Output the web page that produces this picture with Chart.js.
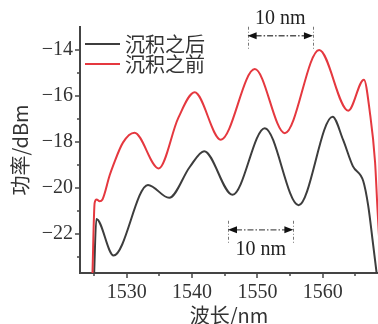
<!DOCTYPE html>
<html>
<head>
<meta charset="utf-8">
<script src="https://cdn.jsdelivr.net/npm/chart.js@4.4.1/dist/chart.umd.min.js"></script>
<style>
  html, body { margin: 0; padding: 0; background: #fff; }
  #wrap { width: 378px; height: 324px; }
</style>
</head>
<body>
<div id="wrap"><canvas id="spectrum"></canvas></div>
<script>
// 沉积之前（红）
const beforeWl  = [1524.75, 1525.1, 1525.4, 1525.85, 1526.3, 1527.4, 1527.9, 1529.43, 1531.2, 1534.9, 1537.9, 1540.4, 1544.4, 1549.6, 1554.2, 1559.45, 1563.9, 1566.3, 1567.2, 1568.0, 1568.35, 1568.7];
const beforePow = [-23.9, -20.65, -20.5, -20.58, -20.5, -19.45, -19.05, -18.03, -17.6, -19.15, -16.95, -15.84, -17.9, -14.83, -17.62, -14.0, -16.64, -15.29, -16.7, -18.87, -20.8, -22.6];

// 沉积之后（黑）
const afterWl  = [1525.0, 1525.36, 1528.0, 1533.26, 1536.5, 1539.65, 1541.85, 1546.2, 1551.13, 1556.3, 1561.5, 1563.1, 1564.6, 1566.19, 1566.95, 1567.72, 1568.24, 1568.5];
const afterPow = [-23.9, -21.35, -22.94, -19.87, -20.43, -19.09, -18.4, -20.3, -17.4, -20.75, -16.9, -17.9, -19.05, -19.7, -20.77, -22.5, -23.7, -24.3];

// 刻度
const xMajor = [1530, 1540, 1550, 1560];
const xMinor = [1525, 1535, 1545, 1555, 1565];
const yMajor = [-22, -20, -18, -16, -14];
const yMinor = [-23, -21, -19, -17, -15];

// 两处 10 nm 标注（起点 + 跨度）
const spanStart = [1548.5, 1545.5];
const spanWidth = [10, 10];
const spanLevel = [-13.38, -21.82];
const spanLabel = ['10 nm', '10 nm'];

const seriesNames = ['沉积之后', '沉积之前'];
const red = '#e5383f';
const dark = '#3d3d3d';
const axisColor = '#444';
const serif = '"Liberation Serif", "Noto Sans CJK SC", serif';
const cjk = '"Noto Sans CJK SC", "Liberation Serif", sans-serif';

const toPts = (xs, ys) => xs.map((v, i) => ({ x: v, y: ys[i] }));

function arrowHead(ctx, x, y, dir) {
  ctx.beginPath();
  ctx.moveTo(x, y);
  ctx.lineTo(x - dir * 9, y - 3.5);
  ctx.lineTo(x - dir * 9, y + 3.5);
  ctx.closePath();
  ctx.fill();
}

const decor = {
  id: 'decor',
  afterDraw(chart) {
    const { ctx, chartArea: a, scales: { x, y } } = chart;
    ctx.save();

    // 刻度线
    ctx.strokeStyle = axisColor;
    ctx.lineWidth = 1.5;
    const tick = (x1, y1, x2, y2) => { ctx.beginPath(); ctx.moveTo(x1, y1); ctx.lineTo(x2, y2); ctx.stroke(); };
    xMajor.forEach(v => { const px = Math.round(x.getPixelForValue(v)); tick(px, a.bottom, px, a.bottom + 5); });
    xMinor.forEach(v => { const px = Math.round(x.getPixelForValue(v)); tick(px, a.bottom, px, a.bottom + 3); });
    yMajor.forEach(v => { const py = Math.round(y.getPixelForValue(v)); tick(a.left, py, a.left - 5, py); });
    yMinor.forEach(v => { const py = Math.round(y.getPixelForValue(v)); tick(a.left, py, a.left - 3, py); });

    // 图例
    ctx.lineWidth = 2;
    [dark, red].forEach((c, i) => {
      const ly = a.top + 17 + i * 20;
      ctx.strokeStyle = c;
      tick(a.left + 5, ly, a.left + 40, ly);
      ctx.fillStyle = '#333';
      ctx.font = '20px ' + cjk;
      ctx.textBaseline = 'middle';
      ctx.textAlign = 'left';
      ctx.fillText(seriesNames[i], a.left + 45, ly);
    });

    // 10 nm 标注
    spanStart.forEach((s, i) => {
      const x1 = x.getPixelForValue(s);
      const x2 = x.getPixelForValue(s + spanWidth[i]);
      const py = y.getPixelForValue(spanLevel[i]);
      ctx.strokeStyle = '#777';
      ctx.lineWidth = 1;
      ctx.setLineDash([3, 2, 1, 2]);
      tick(Math.round(x1) + 0.5, py - 9, Math.round(x1) + 0.5, py + 15);
      tick(Math.round(x2) + 0.5, py - 9, Math.round(x2) + 0.5, py + 15);
      ctx.strokeStyle = '#555';
      ctx.lineWidth = 1.3;
      ctx.setLineDash([6, 2, 1.5, 2]);
      tick(x1 + 8, py, x2 - 8, py);
      ctx.setLineDash([]);
      ctx.fillStyle = '#111';
      arrowHead(ctx, x1, py, -1);
      arrowHead(ctx, x2, py, 1);
      ctx.fillStyle = '#222';
      ctx.font = '20px ' + serif;
      ctx.textAlign = 'center';
      ctx.textBaseline = 'middle';
      const ty = i === 0 ? py - 17 : py + 20;
      ctx.fillText(spanLabel[i], (x1 + x2) / 2, ty);
    });

    ctx.restore();
  }
};

new Chart(document.getElementById('spectrum').getContext('2d'), {
  type: 'line',
  data: {
    datasets: [
      {
        label: seriesNames[1],
        data: toPts(beforeWl, beforePow),
        borderColor: red,
        borderWidth: 2,
        pointRadius: 0,
        cubicInterpolationMode: 'monotone',
        fill: false,
      },
      {
        label: seriesNames[0],
        data: toPts(afterWl, afterPow),
        borderColor: dark,
        borderWidth: 2,
        pointRadius: 0,
        cubicInterpolationMode: 'monotone',
        fill: false,
      },
    ],
  },
  options: {
    responsive: true,
    maintainAspectRatio: false,
    animation: false,
    devicePixelRatio: 1,
    layout: { padding: { top: 27, right: 0, left: 0, bottom: 0 } },
    plugins: { legend: { display: false }, tooltip: { enabled: false } },
    scales: {
      x: {
        type: 'linear',
        min: 1522.86,
        max: 1568.45,
        afterBuildTicks: s => { s.ticks = xMajor.map(v => ({ value: v })); },
        afterFit: s => { s.height = 51; },
        grid: { drawOnChartArea: false, drawTicks: true, tickLength: 5, color: 'rgba(0,0,0,0)' },
        border: { display: true, color: axisColor, width: 2 },
        ticks: { color: '#333', font: { family: serif, size: 20 }, padding: 3, maxRotation: 0, callback: v => String(v) },
        title: { display: true, text: '波长/nm', color: '#333', font: { family: cjk, size: 20, lineHeight: 1 }, padding: { top: 0, bottom: -1 } },
      },
      y: {
        min: -23.7,
        max: -13,
        afterBuildTicks: s => { s.ticks = yMajor.map(v => ({ value: v })); },
        afterFit: s => { s.width = 80; },
        grid: { drawOnChartArea: false, drawTicks: true, tickLength: 5, color: 'rgba(0,0,0,0)' },
        border: { display: true, color: axisColor, width: 2 },
        ticks: { color: '#333', font: { family: serif, size: 20 }, padding: 2, callback: v => '\u2212' + Math.abs(v) },
        title: { display: true, text: '功率/dBm', color: '#333', font: { family: cjk, size: 20, lineHeight: 1.2 }, padding: { top: 8, bottom: 0 } },
      },
    },
  },
  plugins: [decor],
});
</script>
</body>
</html>
